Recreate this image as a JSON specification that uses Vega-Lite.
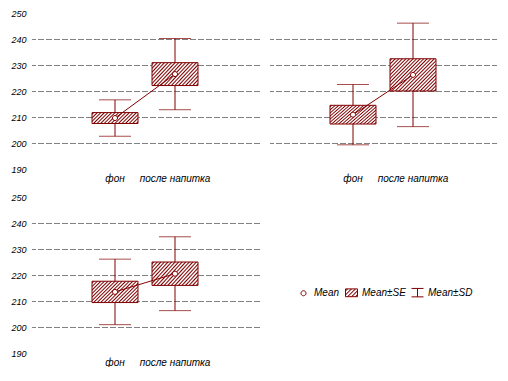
{
  "$schema": "https://vega.github.io/schema/vega-lite/v6.json",
  "background": "white",
  "padding": {"left": 10, "top": 9, "right": 0, "bottom": 0},
  "params": [
    {"name": "g1", "value": {"gradient": "linear", "x1": 0, "y1": 0, "x2": 1.171, "y2": 0.28, "stops": [
      {"offset": 0, "color": "#fff"},
      {"offset": 0.006, "color": "#fff"}, {"offset": 0.031, "color": "#800000"}, {"offset": 0.056, "color": "#fff"},
      {"offset": 0.069, "color": "#fff"}, {"offset": 0.094, "color": "#800000"}, {"offset": 0.119, "color": "#fff"},
      {"offset": 0.131, "color": "#fff"}, {"offset": 0.156, "color": "#800000"}, {"offset": 0.181, "color": "#fff"},
      {"offset": 0.194, "color": "#fff"}, {"offset": 0.219, "color": "#800000"}, {"offset": 0.244, "color": "#fff"},
      {"offset": 0.256, "color": "#fff"}, {"offset": 0.281, "color": "#800000"}, {"offset": 0.306, "color": "#fff"},
      {"offset": 0.319, "color": "#fff"}, {"offset": 0.344, "color": "#800000"}, {"offset": 0.369, "color": "#fff"},
      {"offset": 0.381, "color": "#fff"}, {"offset": 0.406, "color": "#800000"}, {"offset": 0.431, "color": "#fff"},
      {"offset": 0.444, "color": "#fff"}, {"offset": 0.469, "color": "#800000"}, {"offset": 0.494, "color": "#fff"},
      {"offset": 0.506, "color": "#fff"}, {"offset": 0.531, "color": "#800000"}, {"offset": 0.556, "color": "#fff"},
      {"offset": 0.569, "color": "#fff"}, {"offset": 0.594, "color": "#800000"}, {"offset": 0.619, "color": "#fff"},
      {"offset": 0.631, "color": "#fff"}, {"offset": 0.656, "color": "#800000"}, {"offset": 0.681, "color": "#fff"},
      {"offset": 0.694, "color": "#fff"}, {"offset": 0.719, "color": "#800000"}, {"offset": 0.744, "color": "#fff"},
      {"offset": 0.756, "color": "#fff"}, {"offset": 0.781, "color": "#800000"}, {"offset": 0.806, "color": "#fff"},
      {"offset": 0.819, "color": "#fff"}, {"offset": 0.844, "color": "#800000"}, {"offset": 0.869, "color": "#fff"},
      {"offset": 0.881, "color": "#fff"}, {"offset": 0.906, "color": "#800000"}, {"offset": 0.931, "color": "#fff"},
      {"offset": 0.944, "color": "#fff"}, {"offset": 0.969, "color": "#800000"}, {"offset": 0.994, "color": "#fff"},
      {"offset": 1, "color": "#fff"}]}},
    {"name": "g2", "value": {"gradient": "linear", "x1": 0, "y1": 0, "x2": 1.204, "y2": 0.563, "stops": [
      {"offset": 0, "color": "#fff"},
      {"offset": 0.005, "color": "#fff"}, {"offset": 0.026, "color": "#800000"}, {"offset": 0.047, "color": "#fff"},
      {"offset": 0.058, "color": "#fff"}, {"offset": 0.079, "color": "#800000"}, {"offset": 0.100, "color": "#fff"},
      {"offset": 0.111, "color": "#fff"}, {"offset": 0.132, "color": "#800000"}, {"offset": 0.153, "color": "#fff"},
      {"offset": 0.163, "color": "#fff"}, {"offset": 0.184, "color": "#800000"}, {"offset": 0.205, "color": "#fff"},
      {"offset": 0.216, "color": "#fff"}, {"offset": 0.237, "color": "#800000"}, {"offset": 0.258, "color": "#fff"},
      {"offset": 0.269, "color": "#fff"}, {"offset": 0.290, "color": "#800000"}, {"offset": 0.311, "color": "#fff"},
      {"offset": 0.321, "color": "#fff"}, {"offset": 0.342, "color": "#800000"}, {"offset": 0.363, "color": "#fff"},
      {"offset": 0.374, "color": "#fff"}, {"offset": 0.395, "color": "#800000"}, {"offset": 0.416, "color": "#fff"},
      {"offset": 0.426, "color": "#fff"}, {"offset": 0.447, "color": "#800000"}, {"offset": 0.468, "color": "#fff"},
      {"offset": 0.479, "color": "#fff"}, {"offset": 0.5, "color": "#800000"}, {"offset": 0.521, "color": "#fff"},
      {"offset": 0.532, "color": "#fff"}, {"offset": 0.553, "color": "#800000"}, {"offset": 0.574, "color": "#fff"},
      {"offset": 0.584, "color": "#fff"}, {"offset": 0.605, "color": "#800000"}, {"offset": 0.626, "color": "#fff"},
      {"offset": 0.637, "color": "#fff"}, {"offset": 0.658, "color": "#800000"}, {"offset": 0.679, "color": "#fff"},
      {"offset": 0.690, "color": "#fff"}, {"offset": 0.711, "color": "#800000"}, {"offset": 0.732, "color": "#fff"},
      {"offset": 0.742, "color": "#fff"}, {"offset": 0.763, "color": "#800000"}, {"offset": 0.784, "color": "#fff"},
      {"offset": 0.795, "color": "#fff"}, {"offset": 0.816, "color": "#800000"}, {"offset": 0.837, "color": "#fff"},
      {"offset": 0.847, "color": "#fff"}, {"offset": 0.868, "color": "#800000"}, {"offset": 0.889, "color": "#fff"},
      {"offset": 0.900, "color": "#fff"}, {"offset": 0.921, "color": "#800000"}, {"offset": 0.942, "color": "#fff"},
      {"offset": 0.953, "color": "#fff"}, {"offset": 0.974, "color": "#800000"}, {"offset": 0.995, "color": "#fff"},
      {"offset": 1, "color": "#fff"}]}},
    {"name": "g3", "value": {"gradient": "linear", "x1": 0, "y1": 0, "x2": 1.143, "y2": 0.795, "stops": [
      {"offset": 0, "color": "#fff"},
      {"offset": 0.005, "color": "#fff"}, {"offset": 0.023, "color": "#800000"}, {"offset": 0.041, "color": "#fff"},
      {"offset": 0.050, "color": "#fff"}, {"offset": 0.068, "color": "#800000"}, {"offset": 0.086, "color": "#fff"},
      {"offset": 0.096, "color": "#fff"}, {"offset": 0.114, "color": "#800000"}, {"offset": 0.132, "color": "#fff"},
      {"offset": 0.141, "color": "#fff"}, {"offset": 0.159, "color": "#800000"}, {"offset": 0.177, "color": "#fff"},
      {"offset": 0.187, "color": "#fff"}, {"offset": 0.205, "color": "#800000"}, {"offset": 0.223, "color": "#fff"},
      {"offset": 0.232, "color": "#fff"}, {"offset": 0.25, "color": "#800000"}, {"offset": 0.268, "color": "#fff"},
      {"offset": 0.278, "color": "#fff"}, {"offset": 0.296, "color": "#800000"}, {"offset": 0.314, "color": "#fff"},
      {"offset": 0.323, "color": "#fff"}, {"offset": 0.341, "color": "#800000"}, {"offset": 0.359, "color": "#fff"},
      {"offset": 0.368, "color": "#fff"}, {"offset": 0.386, "color": "#800000"}, {"offset": 0.404, "color": "#fff"},
      {"offset": 0.414, "color": "#fff"}, {"offset": 0.432, "color": "#800000"}, {"offset": 0.450, "color": "#fff"},
      {"offset": 0.459, "color": "#fff"}, {"offset": 0.477, "color": "#800000"}, {"offset": 0.495, "color": "#fff"},
      {"offset": 0.505, "color": "#fff"}, {"offset": 0.523, "color": "#800000"}, {"offset": 0.541, "color": "#fff"},
      {"offset": 0.550, "color": "#fff"}, {"offset": 0.568, "color": "#800000"}, {"offset": 0.586, "color": "#fff"},
      {"offset": 0.596, "color": "#fff"}, {"offset": 0.614, "color": "#800000"}, {"offset": 0.632, "color": "#fff"},
      {"offset": 0.641, "color": "#fff"}, {"offset": 0.659, "color": "#800000"}, {"offset": 0.677, "color": "#fff"},
      {"offset": 0.687, "color": "#fff"}, {"offset": 0.705, "color": "#800000"}, {"offset": 0.723, "color": "#fff"},
      {"offset": 0.732, "color": "#fff"}, {"offset": 0.75, "color": "#800000"}, {"offset": 0.768, "color": "#fff"},
      {"offset": 0.778, "color": "#fff"}, {"offset": 0.796, "color": "#800000"}, {"offset": 0.814, "color": "#fff"},
      {"offset": 0.823, "color": "#fff"}, {"offset": 0.841, "color": "#800000"}, {"offset": 0.859, "color": "#fff"},
      {"offset": 0.868, "color": "#fff"}, {"offset": 0.886, "color": "#800000"}, {"offset": 0.904, "color": "#fff"},
      {"offset": 0.914, "color": "#fff"}, {"offset": 0.932, "color": "#800000"}, {"offset": 0.950, "color": "#fff"},
      {"offset": 0.959, "color": "#fff"}, {"offset": 0.977, "color": "#800000"}, {"offset": 0.995, "color": "#fff"},
      {"offset": 1, "color": "#fff"}]}},
    {"name": "gl", "value": {"gradient": "linear", "x1": 0, "y1": 0, "x2": 1.16, "y2": 0.754, "stops": [
      {"offset": 0, "color": "#fff"},
      {"offset": 0.03, "color": "#fff"}, {"offset": 0.1, "color": "#800000"}, {"offset": 0.17, "color": "#fff"},
      {"offset": 0.23, "color": "#fff"}, {"offset": 0.3, "color": "#800000"}, {"offset": 0.37, "color": "#fff"},
      {"offset": 0.43, "color": "#fff"}, {"offset": 0.5, "color": "#800000"}, {"offset": 0.57, "color": "#fff"},
      {"offset": 0.63, "color": "#fff"}, {"offset": 0.7, "color": "#800000"}, {"offset": 0.77, "color": "#fff"},
      {"offset": 0.83, "color": "#fff"}, {"offset": 0.9, "color": "#800000"}, {"offset": 0.97, "color": "#fff"},
      {"offset": 1, "color": "#fff"}]}}
  ],
  "data": {"values": [
    {"panel": 1, "cat": "фон", "mean": 209.6, "se_lo": 207.5, "se_hi": 211.7, "sd_lo": 202.6, "sd_hi": 216.6},
    {"panel": 1, "cat": "после напитка", "mean": 226.5, "se_lo": 222.1, "se_hi": 230.9, "sd_lo": 212.8, "sd_hi": 240.2},
    {"panel": 2, "cat": "фон", "mean": 210.9, "se_lo": 207.3, "se_hi": 214.5, "sd_lo": 199.3, "sd_hi": 222.5},
    {"panel": 2, "cat": "после напитка", "mean": 226.2, "se_lo": 220.0, "se_hi": 232.4, "sd_lo": 206.3, "sd_hi": 246.1},
    {"panel": 3, "cat": "фон", "mean": 213.5, "se_lo": 209.4, "se_hi": 217.6, "sd_lo": 200.9, "sd_hi": 226.1},
    {"panel": 3, "cat": "после напитка", "mean": 220.5, "se_lo": 216.0, "se_hi": 225.0, "sd_lo": 206.3, "sd_hi": 234.7}
  ]},
  "columns": 2,
  "spacing": {"row": 10, "column": 10},
  "concat": [
    {
      "width": 228, "height": 156,
      "transform": [{"filter": "datum.panel === 1"}],
      "encoding": {"x": {"field": "cat", "type": "nominal", "sort": ["фон", "после напитка"], "title": null,
        "scale": {"type": "band", "paddingInner": 0.2, "paddingOuter": 1.1}}},
      "layer": [
        {"mark": {"type": "rule", "color": "#800000", "strokeWidth": 1},
         "encoding": {"y": {"field": "sd_lo", "type": "quantitative", "title": null,
           "scale": {"domain": [190, 250], "nice": false, "zero": false},
           "axis": {"title": null, "orient": "left", "grid": false, "values": [190, 200, 210, 220, 230, 240, 250], "labelOverlap": false}},
           "y2": {"field": "sd_hi"}}},
        {"mark": {"type": "tick", "orient": "horizontal", "size": 32, "thickness": 1, "color": "#800000"},
         "encoding": {"y": {"field": "sd_lo", "type": "quantitative", "title": null,
           "axis": {"title": null, "orient": "right", "grid": true, "labels": false, "ticks": false, "domain": false, "values": [200, 210, 220, 230, 240]}}}},
        {"mark": {"type": "tick", "orient": "horizontal", "size": 32, "thickness": 1, "color": "#800000"},
         "encoding": {"y": {"field": "sd_hi", "type": "quantitative", "title": null, "axis": null}}},
        {"mark": {"type": "bar", "size": 46, "stroke": "#800000", "strokeWidth": 1},
         "encoding": {"y": {"field": "se_lo", "type": "quantitative", "title": null, "axis": null}, "y2": {"field": "se_hi"},
           "fill": {"value": {"expr": "datum.panel === 1 && datum.cat === 'фон' ? g1 : (datum.panel === 2 && datum.cat !== 'фон' ? g3 : g2)"}}}},
        {"mark": {"type": "line", "color": "#800000", "strokeWidth": 1},
         "encoding": {"y": {"field": "mean", "type": "quantitative", "title": null, "axis": null}}},
        {"mark": {"type": "point", "filled": true, "size": 144, "strokeWidth": 1, "opacity": 1},
         "encoding": {"y": {"field": "mean", "type": "quantitative", "title": null, "axis": null},
           "shape": {"datum": "Mean", "type": "nominal", "scale": {"domain": ["Mean", "Mean±SE", "Mean±SD"],
             "range": ["M-0.42,0A0.42,0.42 0 1,0 0.42,0A0.42,0.42 0 1,0 -0.42,0Z", "M-1,-0.65H1V0.65H-1Z", "M-1,-0.7H1M0,-0.7V0.7M-1,0.7H1"]},
             "legend": {"orient": "none", "legendX": 266, "legendY": 273, "direction": "horizontal", "title": null}},
           "fill": {"datum": "Mean", "type": "nominal", "scale": {"domain": ["Mean", "Mean±SE", "Mean±SD"],
             "range": ["#ffffff", {"expr": "gl"}, "#ffffff"]},
             "legend": {"orient": "none", "legendX": 266, "legendY": 273, "direction": "horizontal", "title": null}},
           "stroke": {"datum": "Mean", "type": "nominal", "scale": {"domain": ["Mean", "Mean±SE", "Mean±SD"],
             "range": ["#800000", "#800000", "#800000"]},
             "legend": {"orient": "none", "legendX": 266, "legendY": 273, "direction": "horizontal", "title": null}}}}
      ]
    },
    {
      "width": 228, "height": 156,
      "transform": [{"filter": "datum.panel === 2"}],
      "encoding": {"x": {"field": "cat", "type": "nominal", "sort": ["фон", "после напитка"], "title": null,
        "scale": {"type": "band", "paddingInner": 0.2, "paddingOuter": 1.1}}},
      "layer": [
        {"mark": {"type": "rule", "color": "#800000", "strokeWidth": 1},
         "encoding": {"y": {"field": "sd_lo", "type": "quantitative", "title": null,
           "scale": {"domain": [190, 250], "nice": false, "zero": false},
           "axis": {"title": null, "orient": "left", "grid": false, "labels": false, "values": [190, 200, 210, 220, 230, 240, 250]}},
           "y2": {"field": "sd_hi"}}},
        {"mark": {"type": "tick", "orient": "horizontal", "size": 32, "thickness": 1, "color": "#800000"},
         "encoding": {"y": {"field": "sd_lo", "type": "quantitative", "title": null,
           "axis": {"title": null, "orient": "right", "grid": true, "labels": false, "ticks": false, "domain": false, "values": [200, 210, 220, 230, 240]}}}},
        {"mark": {"type": "tick", "orient": "horizontal", "size": 32, "thickness": 1, "color": "#800000"},
         "encoding": {"y": {"field": "sd_hi", "type": "quantitative", "title": null, "axis": null}}},
        {"mark": {"type": "bar", "size": 46, "stroke": "#800000", "strokeWidth": 1},
         "encoding": {"y": {"field": "se_lo", "type": "quantitative", "title": null, "axis": null}, "y2": {"field": "se_hi"},
           "fill": {"value": {"expr": "datum.panel === 1 && datum.cat === 'фон' ? g1 : (datum.panel === 2 && datum.cat !== 'фон' ? g3 : g2)"}}}},
        {"mark": {"type": "line", "color": "#800000", "strokeWidth": 1},
         "encoding": {"y": {"field": "mean", "type": "quantitative", "title": null, "axis": null}}},
        {"mark": {"type": "point", "filled": true, "size": 144, "strokeWidth": 1, "opacity": 1},
         "encoding": {"y": {"field": "mean", "type": "quantitative", "title": null, "axis": null},
           "shape": {"datum": "Mean", "type": "nominal"},
           "fill": {"datum": "Mean", "type": "nominal"},
           "stroke": {"datum": "Mean", "type": "nominal"}}}
      ]
    },
    {
      "width": 228, "height": 156,
      "transform": [{"filter": "datum.panel === 3"}],
      "encoding": {"x": {"field": "cat", "type": "nominal", "sort": ["фон", "после напитка"], "title": null,
        "scale": {"type": "band", "paddingInner": 0.2, "paddingOuter": 1.1}}},
      "layer": [
        {"mark": {"type": "rule", "color": "#800000", "strokeWidth": 1},
         "encoding": {"y": {"field": "sd_lo", "type": "quantitative", "title": null,
           "scale": {"domain": [190, 250], "nice": false, "zero": false},
           "axis": {"title": null, "orient": "left", "grid": false, "values": [190, 200, 210, 220, 230, 240, 250], "labelOverlap": false}},
           "y2": {"field": "sd_hi"}}},
        {"mark": {"type": "tick", "orient": "horizontal", "size": 32, "thickness": 1, "color": "#800000"},
         "encoding": {"y": {"field": "sd_lo", "type": "quantitative", "title": null,
           "axis": {"title": null, "orient": "right", "grid": true, "labels": false, "ticks": false, "domain": false, "values": [200, 210, 220, 230, 240]}}}},
        {"mark": {"type": "tick", "orient": "horizontal", "size": 32, "thickness": 1, "color": "#800000"},
         "encoding": {"y": {"field": "sd_hi", "type": "quantitative", "title": null, "axis": null}}},
        {"mark": {"type": "bar", "size": 46, "stroke": "#800000", "strokeWidth": 1},
         "encoding": {"y": {"field": "se_lo", "type": "quantitative", "title": null, "axis": null}, "y2": {"field": "se_hi"},
           "fill": {"value": {"expr": "datum.panel === 1 && datum.cat === 'фон' ? g1 : (datum.panel === 2 && datum.cat !== 'фон' ? g3 : g2)"}}}},
        {"mark": {"type": "line", "color": "#800000", "strokeWidth": 1},
         "encoding": {"y": {"field": "mean", "type": "quantitative", "title": null, "axis": null}}},
        {"mark": {"type": "point", "filled": true, "size": 144, "strokeWidth": 1, "opacity": 1},
         "encoding": {"y": {"field": "mean", "type": "quantitative", "title": null, "axis": null},
           "shape": {"datum": "Mean", "type": "nominal"},
           "fill": {"datum": "Mean", "type": "nominal"},
           "stroke": {"datum": "Mean", "type": "nominal"}}}
      ]
    }
  ],
  "config": {
    "view": {"stroke": null},
    "axisY": {"ticks": false, "tickSize": 0, "domain": false, "gridColor": "#000000", "gridDash": [1, 1, 1, 1, 1, 3], "gridWidth": 1,
      "labelFont": "Liberation Sans", "labelFontStyle": "italic", "labelFontSize": 9, "labelColor": "#000000", "labelPadding": 5, "labelOverlap": false},
    "axisX": {"ticks": false, "tickSize": 0, "domain": false, "grid": false, "labelAngle": 0,
      "labelFont": "Liberation Sans", "labelFontStyle": "italic", "labelFontSize": 10, "labelColor": "#000000", "labelPadding": 4},
    "legend": {"labelFont": "Liberation Sans", "labelFontStyle": "italic", "labelFontSize": 10, "labelColor": "#000000",
      "symbolSize": 144, "symbolStrokeWidth": 1, "labelOffset": 4, "columnPadding": 3, "padding": 0}
  }
}
